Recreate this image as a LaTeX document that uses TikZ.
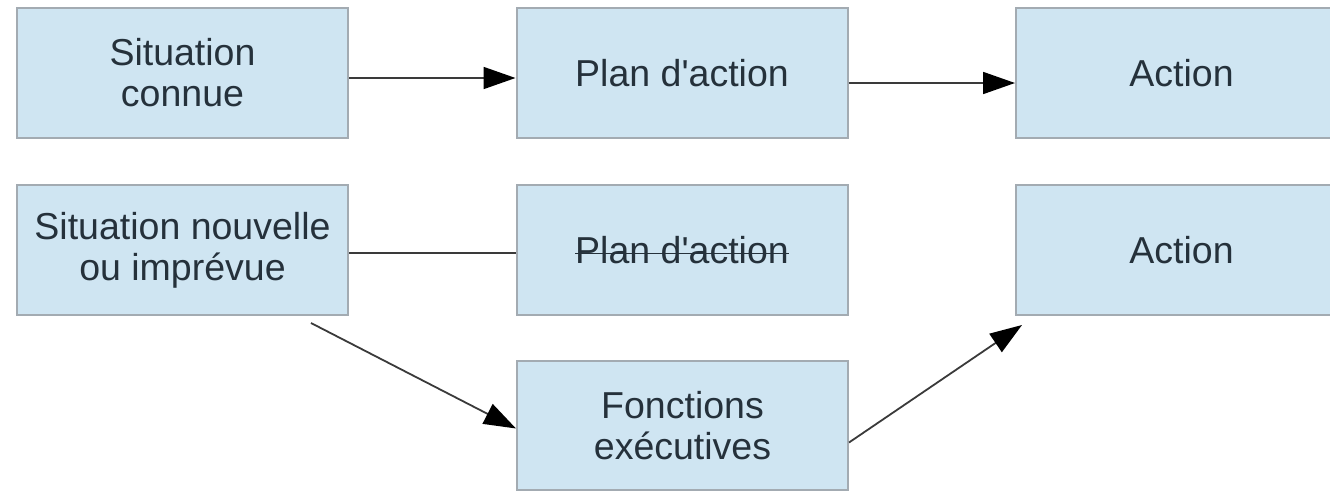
\documentclass[tikz,border=0pt]{standalone}
\usepackage{fontspec}
\newfontfamily\arialf{Liberation Sans}
\usetikzlibrary{arrows.meta}
\definecolor{boxfill}{HTML}{CFE5F2}
\definecolor{boxline}{HTML}{A3ABB2}
\definecolor{txt}{HTML}{25313B}
\definecolor{arr}{HTML}{3A3A3A}
\begin{document}
\begin{tikzpicture}[x=1pt,y=-1pt,
  lbl/.style={text=txt,font=\arialf\fontsize{37.5}{41}\selectfont},
  box/.style={lbl,draw=boxline,line width=2pt,fill=boxfill,minimum width=331pt,minimum height=130pt,
    inner sep=0pt,align=center},
  conn/.style={draw=arr,line width=1.8pt},
  arrowconn/.style={conn,-{Triangle[length=32pt,width=22pt,color=black]}}]
\useasboundingbox (0,0) rectangle (1330,490);
\begin{scope}
\clip (0,0) rectangle (1330,490);
\node[box] (s1) at (182.5,73) {Situation\\connue};
\node[box] (p1) at (682,73) {Plan d'action};
\node[box] (a1) at (1181.5,73) {Action};
\node[box] (s2) at (182.5,250) {Situation nouvelle\\ou imprévue};
\node[box] (p2) at (682,250) {};
\node[lbl,inner sep=0pt] (p2t) at (682,250) {Plan d'action};
\node[box] (a2) at (1181.5,250) {Action};
\node[box,minimum height=129pt] (f) at (682.5,425.5) {Fonctions\\exécutives};
\end{scope}
\draw[txt,line width=1.6pt] ([yshift=10pt]p2t.base west) -- ([yshift=10pt]p2t.base east);
\draw[arrowconn] ([yshift=-5pt]s1.east) -- ([yshift=-5pt]s1.east -| p1.west);
\draw[arrowconn] ([yshift=-10pt]p1.east) -- ([yshift=-10pt]p1.east -| a1.west);
\draw[conn] ([yshift=-3pt]s2.east) -- ([yshift=-3pt]s2.east -| p2.west);
\coordinate (d1s) at ([xshift=-38pt,yshift=-7pt]s2.south east);
\coordinate (d1e) at ([yshift=-3pt]f.west);
\draw[arrowconn] (d1s) -- (d1e);
\coordinate (d2s) at ([yshift=-17pt]f.east);
\coordinate (d2e) at ([xshift=7pt,yshift=-9pt]a2.south west);
\draw[arrowconn] (d2s) -- (d2e);
\end{tikzpicture}
\end{document}
